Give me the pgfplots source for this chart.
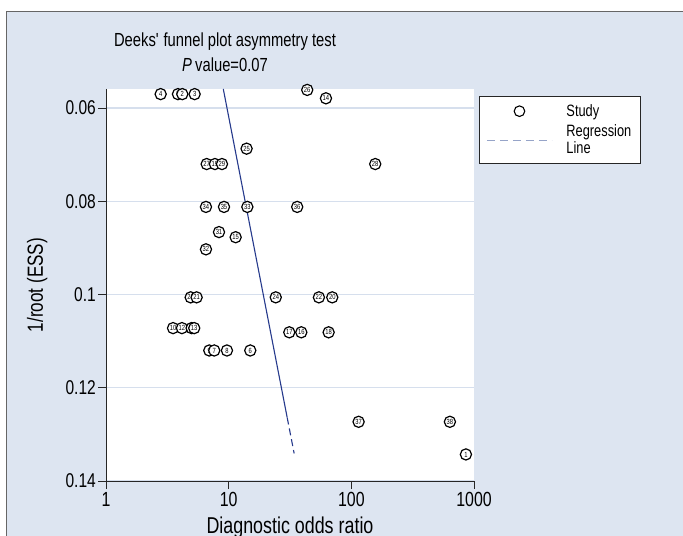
\documentclass[border=0pt]{standalone}
\usepackage{fontspec}
\setmainfont{Liberation Sans}[FakeStretch=0.78]
\usepackage{pgfplots}
\pgfplotsset{compat=1.18}
\usepackage{pgfplotstable}

\definecolor{bgc}{RGB}{221,229,241}
\definecolor{gridc}{RGB}{214,223,237}
\definecolor{navyline}{RGB}{38,58,140}
\definecolor{legline}{RGB}{150,164,200}

% x = diagnostic odds ratio, y = 1/root(ESS), id = study number
\pgfplotstableread{
x y id
2.79 0.0570 4
3.52 0.1072 10
3.86 0.0570 5
4.16 0.1072 12
4.19 0.0570 2
4.90 0.1006 23
4.99 0.1072 11
5.24 0.1072 13
5.28 0.0570 3
5.48 0.1006 21
6.53 0.0812 34
6.53 0.0903 32
6.62 0.0720 27
6.95 0.1120 9
7.63 0.1120 7
7.73 0.0720 19
8.34 0.0866 31
8.82 0.0720 29
9.16 0.0812 35
9.68 0.1120 8
11.4 0.0877 15
14.0 0.0687 25
14.2 0.0812 33
15.0 0.1120 6
24.2 0.1006 24
31.2 0.1081 17
36.2 0.0812 36
39.1 0.1081 16
43.7 0.0561 26
54.4 0.1006 22
62.1 0.0579 14
65.3 0.1081 18
69.9 0.1006 20
114.6 0.1273 37
156.6 0.0720 28
636 0.1273 38
859 0.1343 1
}\studies

\begin{document}
\begin{tikzpicture}[x=1bp,y=1bp]
\useasboundingbox (0,0) rectangle (683,536);
\fill[white] (0,0) rectangle (683,536);
\filldraw[fill=bgc, draw=black!60, line width=1bp] (6,524) rectangle (720,-30);

\begin{axis}[
  at={(106bp,55bp)}, anchor=south west,
  scale only axis, width=368bp, height=392bp,
  xmode=log, xmin=1, xmax=1000,
  xtick={1,10,100,1000}, xticklabels={1,10,100,1000},
  xminorticks=false,
  y dir=reverse, ymin=0.0559, ymax=0.14,
  ytick={0.06,0.08,0.1,0.12,0.14},
  yticklabels={0.06,0.08,0.1,0.12,0.14},
  axis x line*=bottom, axis y line*=left,
  axis line style={black!85, line width=0.9bp},
  tick align=outside, major tick length=8bp,
  tick style={black!85, line width=0.9bp},
  ymajorgrids, major grid style={gridc, line width=1.4bp},
  axis background/.style={fill=white},
  xticklabel style={font=\fontsize{20.5}{21}\selectfont},
  yticklabel style={font=\fontsize{20}{20}\selectfont, inner xsep=2bp},
  xlabel={Diagnostic odds ratio},
  ylabel={1/root (ESS)},
  every axis x label/.style={at={(axis description cs:0.5,-0.1327)}, anchor=base, font=\fontsize{23}{23}\selectfont},
  every axis y label/.style={at={(axis description cs:-0.1712,0.5)}, rotate=90, anchor=base, font=\fontsize{22}{22}\selectfont},
  legend style={at={(axis description cs:1.0136,0.982)}, anchor=north west,
    draw=black!85, line width=0.9bp, fill=white,
    font=\fontsize{16.5}{17}\selectfont, inner xsep=7bp, inner ysep=6bp,
    row sep=3bp,
    /tikz/every odd column/.append style={column sep=12bp}},
  legend cell align=left,
]
\addplot[only marks, mark=*, mark size=5.6bp,
  mark options={draw=black, fill=white, line width=1.2bp},
  point meta=explicit symbolic,
  nodes near coords,
  every node near coord/.append style={anchor=center, inner sep=0pt, font=\fontsize{7.5}{7.5}\selectfont},
  legend image code/.code={\draw[black, fill=white, line width=1.1bp] (32.5bp,0bp) circle[radius=5.3bp];}]
  table[x=x, y=y, meta=id] {\studies};
\addlegendentry{Study}

\addplot[navyline, line width=1.1bp, forget plot] coordinates {(9.04,0.0559) (30.0,0.1264)};
\addplot[navyline, line width=1.1bp, dash pattern=on 7bp off 4bp, forget plot] coordinates {(30.0,0.1264) (34.2,0.1341)};
\addlegendimage{legend image code/.code={\draw[legline, line width=1bp, dash pattern=on 8bp off 5bp] (0bp,0bp) -- (65bp,0bp);}}
\addlegendentry[align=left]{Regression\\Line}
\end{axis}

\node[font=\fontsize{19}{19}\selectfont, anchor=base] at (225,489) {Deeks\textquotesingle\ funnel plot asymmetry test};
\node[font=\fontsize{19}{19}\selectfont, anchor=base] at (225,464) {\textit{P}\,value=0.07};
\end{tikzpicture}
\end{document}
